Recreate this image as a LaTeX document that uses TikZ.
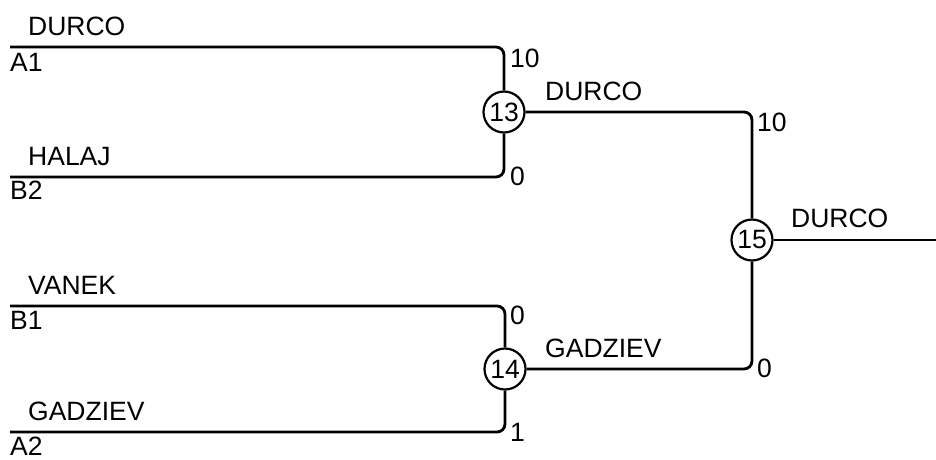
\documentclass[tikz,border=0pt]{standalone}
\usepackage{fontspec}
\setmainfont{Liberation Sans}
\begin{document}
\begin{tikzpicture}[x=1pt,y=-1pt,
  line/.style={line width=2.8pt,rounded corners=8pt},
  txt/.style={anchor=base west,inner sep=0pt,font=\fontsize{26.5}{30}\selectfont},
  game/.style={circle,draw,line width=2.2pt,minimum size=41pt,inner sep=0pt,font=\fontsize{26.5}{30}\selectfont}]
\useasboundingbox (0,0) rectangle (936,459);
% start points
\coordinate (a1) at (10,47);
\coordinate (b2) at (10,177);
\coordinate (b1) at (10,306);
\coordinate (a2) at (10,432);
\coordinate (out) at (936,240);
% games
\node[game] (g13) at (504,112) {13};
\node[game] (g14) at (505,369) {14};
\node[game] (g15) at (752,240) {15};
% connectors
\draw[line] (a1) -| (g13);
\draw[line] (b2) -| (g13);
\draw[line] (b1) -| (g14);
\draw[line] (a2) -| (g14);
\draw[line] (g13) -| (g15);
\draw[line] (g14) -| (g15);
\draw[line] (g15) -- (out);
% names
\node[txt] (t1) at (28,35) {DURCO};
\node[txt] (t2) at (10,71) {A1};
\node[txt] (t3) at (28,165) {HALAJ};
\node[txt] (t4) at (10,199) {B2};
\node[txt] (t5) at (28,294) {VANEK};
\node[txt] (t6) at (10,329) {B1};
\node[txt] (t7) at (28,420) {GADZIEV};
\node[txt] (t8) at (10,455) {A2};
\node[txt] (t9) at (545,100) {DURCO};
\node[txt] (t10) at (545,357) {GADZIEV};
\node[txt] (t11) at (791,227) {DURCO};
% scores
\node[txt] (s1) at (510,67) {10};
\node[txt] (s2) at (510,185) {0};
\node[txt] (s3) at (510,324) {0};
\node[txt] (s4) at (510,441) {1};
\node[txt] (s5) at (757,131) {10};
\node[txt] (s6) at (757,377) {0};
\end{tikzpicture}
\end{document}
